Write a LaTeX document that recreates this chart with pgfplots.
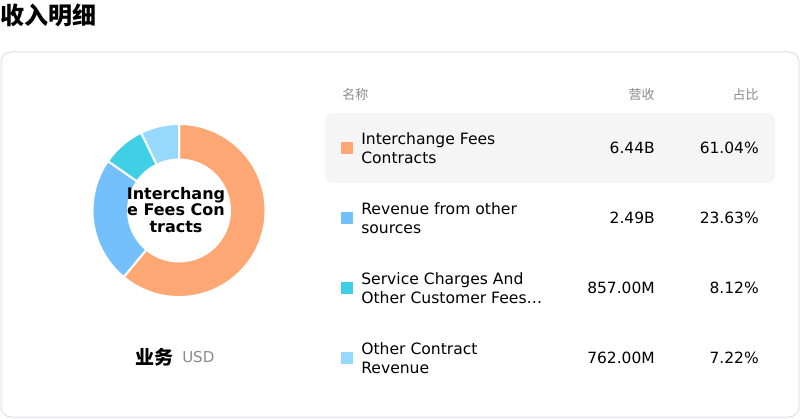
\documentclass[border=0pt]{standalone}
\usepackage{pgfplots}
\pgfplotsset{compat=1.18}
\usepackage{pgfplotstable}
\usepackage{fontspec}
\setmainfont{DejaVu Sans}
\newfontfamily\cjk{Noto Sans CJK SC}
\usetikzlibrary{calc}

\definecolor{cOrange}{HTML}{FDA774}
\definecolor{cBlue}{HTML}{74C0FC}
\definecolor{cTeal}{HTML}{3FCFE6}
\definecolor{cLight}{HTML}{97D9FC}
\definecolor{cBorder}{HTML}{E0DDEC}
\definecolor{cRow}{HTML}{F5F5F5}
\definecolor{cGrey}{HTML}{8A8A8A}

% share of revenue, percent
\pgfplotstableread{
pct
61.04
23.63
8.12
7.22
}\shares

% px -> pt : 0.75
\newcommand\slice[3]{%
  \filldraw[fill=#1, draw=white, line width=1.5pt]
    ($(axis cs:179,207.5)+(#2:64.9pt)$) arc[start angle=#2, end angle=#3, radius=64.9pt]
    -- ($(axis cs:179,207.5)+(#3:38.25pt)$) arc[start angle=#3, end angle=#2, radius=38.25pt]
    -- cycle;}

\newcommand\row[6]{% y, colour, name, amount, pct
  \fill[#2] (axis cs:341,#1-6) rectangle (axis cs:353,#1+6);
  \node[anchor=west, align=left, inner sep=0, font=\fontsize{11.7}{14.25}\selectfont] at (axis cs:361,#1) {#3};
  \node[anchor=east, inner sep=0, font=\fontsize{11.6}{14.25}\selectfont] at (axis cs:655,#1) {#4};
  \node[anchor=east, inner sep=0, font=\fontsize{11.6}{14.25}\selectfont] at (axis cs:759,#1) {#5};}

\begin{document}
\begin{tikzpicture}
\pgfplotstablegetelem{0}{pct}\of\shares \pgfmathsetmacro\aB{90-3.6*\pgfplotsretval}
\pgfplotstablegetelem{1}{pct}\of\shares \pgfmathsetmacro\aC{\aB-3.6*\pgfplotsretval}
\pgfplotstablegetelem{2}{pct}\of\shares \pgfmathsetmacro\aD{\aC-3.6*\pgfplotsretval}
\pgfplotstablegetelem{3}{pct}\of\shares \pgfmathsetmacro\aE{\aD-3.6*\pgfplotsretval}
\begin{axis}[hide axis, x=0.75pt, y=0.75pt, xmin=0, xmax=800, ymin=0, ymax=418, clip=false]
  \path (axis cs:0,0) rectangle (axis cs:800,418);
  \node[anchor=west, inner sep=0, font=\cjk\bfseries\fontsize{18}{20}\selectfont] at (axis cs:0,403) {收入明细};
  \draw[cBorder, line width=0.75pt, rounded corners=7.5pt] (axis cs:1,1) rectangle (axis cs:799,366);

  % donut
  \slice{cOrange}{90}{\aB}
  \slice{cBlue}{\aB}{\aC}
  \slice{cTeal}{\aC}{\aD}
  \slice{cLight}{\aD}{\aE}
  \node[align=center, inner sep=0, font=\bfseries\fontsize{12}{12.4}\selectfont] at (axis cs:176,208) {Interchang\\e Fees Con\\tracts};

  \node[anchor=east, inner sep=0, font=\cjk\bfseries\fontsize{14.25}{16}\selectfont] at (axis cs:174,61) {业务};
  \node[anchor=west, inner sep=0, text=cGrey, font=\fontsize{11.25}{12}\selectfont] at (axis cs:182,61) {USD};

  % table
  \node[anchor=west, inner sep=0, text=cGrey, font=\cjk\fontsize{9.75}{12}\selectfont] at (axis cs:342,323) {名称};
  \node[anchor=east, inner sep=0, text=cGrey, font=\cjk\fontsize{9.75}{12}\selectfont] at (axis cs:655,323) {营收};
  \node[anchor=east, inner sep=0, text=cGrey, font=\cjk\fontsize{9.75}{12}\selectfont] at (axis cs:759,323) {占比};
  \fill[cRow, rounded corners=6pt] (axis cs:325,235) rectangle (axis cs:775,305);
  \row{270}{cOrange}{Interchange Fees\\Contracts}{6.44B}{61.04\%}{}
  \row{200}{cBlue}{Revenue from other\\sources}{2.49B}{23.63\%}{}
  \row{130}{cTeal}{Service Charges And\\Other Customer Fees…}{857.00M}{8.12\%}{}
  \row{60}{cLight}{Other Contract\\Revenue}{762.00M}{7.22\%}{}
\end{axis}
\end{tikzpicture}
\end{document}
